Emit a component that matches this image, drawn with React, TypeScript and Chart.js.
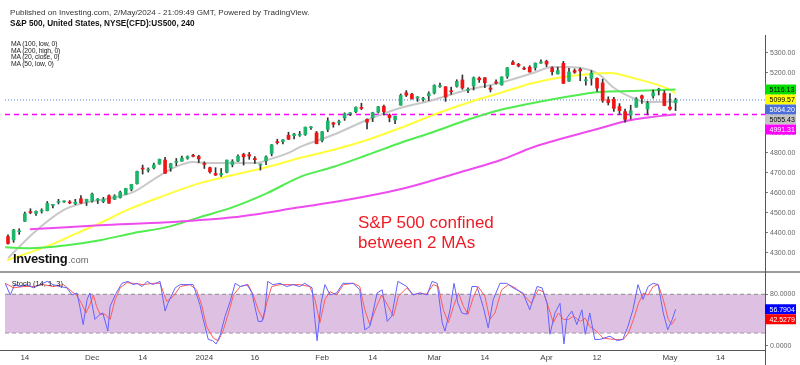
import React, { useEffect, useRef } from 'react';
import { Chart, registerables } from 'chart.js';

Chart.register(...registerables);

const FONT = '"Liberation Sans", Arial, Helvetica, sans-serif';

// ---------- daily candles, 9 Nov 2023 .. 2 May 2024 ----------
const opens = [
  4382, 4365, 4406, 4458, 4505, 4497, 4509, 4511, 4538, 4553, 4555, 4555, 4546, 4571, 4554,
  4559, 4564, 4557, 4586, 4568, 4576, 4593, 4618, 4646, 4721, 4714, 4725, 4744, 4764, 4724, 4753, 4758, 4773, 4786, 4782,
  4745, 4726, 4697, 4690, 4703, 4741, 4759, 4792, 4791, 4772, 4739, 4760, 4797, 4853, 4856, 4888, 4886, 4888, 4892, 4925, 4900,
  4862, 4917, 4950, 4951, 4974, 4995, 5005, 5026, 4967, 4975, 5003, 5032, 4989, 4964, 5038, 5100, 5093, 5074, 5067, 5085,
  5099, 5131, 5130, 5109, 5132, 5164, 5112, 5134, 5173, 5175, 5124, 5154, 5139, 5182, 5253, 5242, 5220, 5228, 5226, 5248,
  5257, 5224, 5194, 5247, 5158, 5211, 5217, 5160, 5172, 5172, 5149, 5066, 5068, 5031, 5006, 4988, 5028, 5085, 5019, 5084, 5114, 5098,
  5029, 5050,
];
const highs = [
  4391, 4418, 4421, 4504, 4521, 4511, 4521, 4557, 4542, 4568, 4560, 4562, 4568, 4587, 4569,
  4599, 4572, 4578, 4590, 4591, 4609, 4623, 4643, 4709, 4739, 4725, 4749, 4769, 4778, 4748, 4772, 4784, 4785, 4793, 4788,
  4755, 4729, 4726, 4722, 4764, 4766, 4790, 4798, 4802, 4782, 4744, 4785, 4842, 4868, 4866, 4903, 4898, 4907, 4929, 4931, 4907,
  4906, 4975, 4953, 4964, 5000, 5001, 5030, 5048, 4970, 5003, 5032, 5039, 4994, 4983, 5094, 5111, 5097, 5081, 5077, 5105,
  5140, 5149, 5131, 5128, 5165, 5189, 5125, 5179, 5179, 5176, 5136, 5165, 5180, 5226, 5261, 5247, 5230, 5235, 5249, 5264,
  5263, 5230, 5228, 5257, 5222, 5219, 5224, 5178, 5211, 5175, 5168, 5080, 5077, 5046, 5019, 5038, 5076, 5089, 5057, 5114, 5123, 5110,
  5096, 5073,
];
const lows = [
  4344, 4353, 4393, 4458, 4496, 4487, 4499, 4510, 4525, 4545, 4552, 4546, 4541, 4547, 4537,
  4554, 4547, 4551, 4547, 4566, 4574, 4593, 4610, 4643, 4694, 4704, 4720, 4743, 4697, 4708, 4736, 4758, 4768, 4780, 4751,
  4722, 4699, 4687, 4682, 4700, 4730, 4756, 4739, 4768, 4747, 4714, 4741, 4785, 4844, 4844, 4866, 4869, 4882, 4887, 4917, 4845,
  4854, 4906, 4928, 4939, 4962, 4986, 5000, 5016, 4920, 4956, 4999, 4990, 4955, 4946, 5038, 5081, 5068, 5057, 5058, 5061,
  5094, 5127, 5057, 5092, 5128, 5117, 5101, 5114, 5152, 5125, 5104, 5144, 5138, 5172, 5240, 5229, 5215, 5203, 5213, 5246,
  5230, 5189, 5194, 5146, 5157, 5197, 5160, 5138, 5138, 5107, 5052, 5039, 5007, 4992, 4953, 4969, 5028, 5047, 4990, 5073, 5089, 5035,
  5013, 5011,
];
const closes = [
  4347, 4415, 4411, 4496, 4502, 4508, 4514, 4547, 4538, 4556, 4559, 4550, 4554, 4550, 4568,
  4594, 4569, 4567, 4549, 4585, 4604, 4622, 4643, 4707, 4719, 4719, 4740, 4768, 4698, 4746, 4754, 4774, 4781, 4783, 4770,
  4742, 4705, 4689, 4697, 4764, 4757, 4783, 4780, 4784, 4766, 4739, 4780, 4840, 4851, 4865, 4868, 4894, 4891, 4928, 4925, 4846,
  4906, 4959, 4943, 4954, 4995, 4998, 5027, 5022, 4953, 5001, 5030, 5005, 4976, 4982, 5087, 5088, 5070, 5078, 5070, 5096,
  5137, 5131, 5079, 5105, 5157, 5124, 5117, 5175, 5165, 5150, 5117, 5149, 5179, 5225, 5241, 5234, 5218, 5204, 5248, 5254,
  5243, 5205, 5211, 5147, 5204, 5202, 5209, 5161, 5199, 5123, 5061, 5051, 5022, 5011, 4967, 5010, 5070, 5072, 5048, 5100, 5116, 5036,
  5018, 5064.2,
];

// ---------- axis ticks (bar index positions) ----------
const dateTickIdx = [3, 15, 24, 35, 44, 56, 65, 76, 85, 96, 105, 118, 127];
const dateTickLabels = ['14', 'Dec', '14', '2024', '16', 'Feb', '14', 'Mar', '14', 'Apr', '12', 'May', '14'];
const priceTicks = [4300, 4400, 4500, 4600, 4700, 4800, 4900, 5000, 5100, 5200, 5300];
const stochTicks = [0, 80];

// ---------- moving averages (bar index, value) ----------
const ma20X = [0, 4.5, 9.8, 13.4, 18.2, 22.3, 26.6, 29.4, 33.0, 35.5, 41.4, 44.4, 46.2, 50.3, 52.0, 57.9, 64.0, 69.9, 75.8, 81.8, 87.7, 93.6, 97.1, 99.6, 103.7, 105.5, 107.8, 111.4, 113.9, 119];
const ma20Y = [4274, 4399, 4513, 4549, 4574, 4604, 4679, 4724, 4754, 4749, 4749, 4749, 4764, 4804, 4829, 4889, 4964, 5024, 5064, 5114, 5149, 5199, 5229, 5229, 5214, 5189, 5129, 5074, 5054, 5055.43];
const ma50X = [-0.2, 7.5, 12.3, 16.4, 21.2, 27.1, 34.2, 40.1, 46.2, 52.0, 57.9, 64.0, 69.9, 75.8, 81.8, 87.7, 93.6, 97.9, 103.7, 107.3, 111.4, 117.5, 119];
const ma50Y = [4264, 4339, 4399, 4449, 4514, 4579, 4649, 4689, 4729, 4774, 4814, 4864, 4924, 4989, 5049, 5099, 5149, 5174, 5194, 5199, 5174, 5122, 5099.57];
const ma100X = [-0.5, 3.9, 10.5, 16.4, 22.3, 28.3, 34.2, 40.1, 46.2, 52.0, 57.9, 64.0, 69.9, 75.8, 81.8, 87.7, 93.6, 98.4, 105.5, 111.4, 119];
const ma100Y = [4328, 4324, 4339, 4364, 4399, 4429, 4479, 4529, 4599, 4679, 4729, 4789, 4849, 4904, 4964, 5014, 5049, 5074, 5104, 5109, 5116.13];
const ma200X = [3.9, 16.4, 28.3, 40.1, 52.0, 61.0, 69.9, 75.8, 81.8, 87.7, 93.6, 99.6, 105.5, 110.0, 114.4, 119];
const ma200Y = [4418, 4438, 4453, 4478, 4528, 4568, 4618, 4663, 4713, 4763, 4828, 4878, 4923, 4958, 4978, 4991.31];

// ---------- stochastic (bar index, value) ----------
const stochKX = [-0.5, 0.4, 1.2, 2.1, 3.4, 4.5, 5.7, 7.0, 8.0, 9.3, 10.5, 11.4, 12.3, 12.8, 13.4, 14.1, 14.6, 15.5, 16.4, 16.9, 17.8, 18.2, 19.1, 20.3, 21.4, 22.3, 23.0, 23.9, 24.8, 25.8, 27.1, 28.0, 28.5, 29.2, 29.8, 30.7, 31.9, 33.0, 33.7, 34.2, 34.8, 35.7, 36.5, 37.1, 37.8, 38.7, 39.6, 40.5, 41.4, 42.6, 43.5, 44.0, 44.6, 45.3, 45.8, 46.3, 47.2, 48.5, 49.7, 50.8, 52.0, 52.9, 54.2, 54.7, 55.1, 55.8, 56.5, 57.4, 58.6, 59.7, 61.5, 62.7, 63.6, 64.5, 65.8, 66.7, 67.6, 68.4, 69.5, 71.1, 72.2, 73.4, 74.7, 75.6, 76.5, 77.4, 77.9, 78.8, 79.5, 80.2, 80.9, 81.8, 82.7, 83.6, 84.7, 85.6, 86.5, 87.7, 88.9, 90.0, 91.8, 93.0, 94.3, 95.2, 96.1, 96.6, 97.5, 98.4, 99.1, 99.6, 100.5, 101.4, 102.3, 102.9, 103.7, 104.6, 105.5, 107.3, 108.6, 109.6, 110.5, 111.4, 112.3, 113.2, 114.1, 115.0, 115.9, 116.8, 117.6, 118.4, 119.0];
const stochK = [97, 79, 95, 92, 95, 90, 95, 100, 95, 92, 90, 79, 82, 61, 33, 72, 82, 41, 49, 51, 23, 61, 79, 97, 100, 95, 97, 92, 100, 95, 100, 54, 66, 79, 90, 95, 95, 95, 77, 64, 41, 10, 8, 3, 16, 46, 69, 97, 92, 95, 82, 61, 38, 38, 56, 100, 95, 97, 92, 95, 92, 97, 90, 41, 8, 66, 95, 79, 82, 97, 97, 87, 25, 30, 82, 87, 38, 46, 100, 92, 79, 82, 79, 100, 97, 36, 23, 56, 97, 66, 51, 49, 92, 92, 61, 28, 72, 97, 97, 90, 82, 56, 92, 90, 66, 18, 51, 66, 3, 43, 54, 33, 56, 18, 51, 10, 10, 15, 8, 10, 30, 56, 95, 72, 92, 97, 95, 51, 25, 41, 56.7904];
const stochDX = [-0.5, 1.0, 2.7, 4.5, 6.3, 8.1, 9.9, 11.4, 12.2, 13.1, 13.9, 14.6, 15.2, 15.8, 16.4, 17.3, 18.2, 19.1, 20.0, 21.2, 22.3, 24.1, 25.9, 27.1, 28.3, 29.5, 30.7, 32.4, 33.6, 34.5, 35.4, 36.6, 37.5, 38.4, 39.3, 40.2, 41.4, 42.8, 43.7, 44.6, 45.5, 46.1, 47.0, 48.5, 50.3, 52.0, 53.8, 54.7, 55.6, 56.5, 57.4, 58.6, 59.8, 61.6, 62.7, 63.6, 64.5, 65.7, 66.6, 67.8, 68.7, 69.6, 71.1, 72.2, 73.4, 74.6, 75.8, 76.7, 77.6, 78.5, 79.4, 80.3, 81.2, 82.0, 82.9, 83.8, 85.0, 85.9, 86.8, 88.0, 89.2, 90.4, 91.9, 93.3, 94.5, 95.4, 96.3, 97.2, 98.1, 99.0, 99.9, 100.8, 102.0, 102.9, 103.7, 104.9, 106.1, 107.9, 109.7, 110.6, 111.5, 112.4, 113.3, 114.1, 115.0, 115.9, 116.8, 117.7, 118.3, 119.0];
const stochD = [97, 90, 92, 92, 95, 92, 95, 84, 79, 66, 51, 64, 79, 61, 49, 49, 41, 72, 90, 98, 97, 95, 97, 97, 69, 77, 92, 95, 87, 64, 30, 12, 8, 25, 51, 79, 92, 95, 79, 56, 41, 66, 92, 95, 95, 95, 92, 72, 36, 72, 84, 79, 95, 97, 92, 56, 33, 61, 79, 61, 46, 77, 90, 79, 82, 80, 95, 92, 56, 36, 61, 82, 61, 49, 74, 92, 77, 41, 51, 87, 95, 90, 79, 66, 87, 84, 61, 36, 51, 41, 41, 46, 38, 43, 30, 23, 12, 10, 10, 20, 41, 66, 82, 79, 92, 95, 72, 41, 33, 42.5279];
const stochBand = [20, 80];

// ---------- last-value tags ----------
const lastPrice = 5064.2;
const ma200Level = 4991.31;
const priceTagValues = [5116.13, 5099.57, 5064.2, 5055.43, 4991.31];
const priceTagBg = ['#00e000', '#ffff00', '#4a6fdc', '#c4c4c4', '#ff00ff'];
const priceTagFg = ['#000000', '#000000', '#ffffff', '#000000', '#ffffff'];
const stochTagValues = [56.7904, 42.5279];
const stochTagBg = ['#0000ff', '#ff0000'];

const X_MIN = -0.535;
const X_MAX = 134.94;
const GREEN = '#1db56a';
const RED = '#f21414';
const AXIS_FONT = 7;

function drawTags(ctx: CanvasRenderingContext2D, x: number, items: { y: number; text: string; bg: string; fg: string }[]) {
  let prev = -1e9;
  ctx.save();
  ctx.font = `${AXIS_FONT}px ${FONT}`;
  ctx.textBaseline = 'middle';
  ctx.textAlign = 'left';
  for (const it of items) {
    const y = Math.max(it.y, prev + 10);
    prev = y;
    ctx.fillStyle = it.bg;
    ctx.fillRect(x, y - 5, 31, 10);
    ctx.fillStyle = it.fg;
    ctx.fillText(it.text, x + 4.5, y + 0.5);
  }
  ctx.restore();
}

const T: React.FC<{ x: number; base: number; size: number; bold?: boolean; color?: string; ls?: number; children: React.ReactNode }> = ({ x, base, size, bold, color, ls, children }) => (
  <div
    style={{
      position: 'absolute',
      left: x,
      top: base - 0.8465 * size,
      fontSize: size,
      lineHeight: `${size}px`,
      fontFamily: FONT,
      fontWeight: bold ? 'bold' : 'normal',
      color: color || '#222',
      whiteSpace: 'nowrap',
      letterSpacing: ls ? `${ls}px` : undefined,
    }}
  >
    {children}
  </div>
);

export default function App() {
  const mainRef = useRef<HTMLCanvasElement>(null);
  const stochRef = useRef<HTMLCanvasElement>(null);

  useEffect(() => {
    const pts = (xs: number[], ys: number[]) => xs.map((x, i) => ({ x, y: ys[i] }));
    const hline = (v: number) => [{ x: X_MIN, y: v }, { x: X_MAX, y: v }];
    const bodies = closes.map((c, i) => ({ x: i, y: [opens[i], c] }));
    const wicks = closes.map((_, i) => ({ x: i, y: [lows[i], highs[i]] }));
    const candleColor = (ctx: any) => (closes[ctx.dataIndex] >= opens[ctx.dataIndex] ? GREEN : RED);
    const fixWidth = (s: any) => { s.width = 35; };

    const mainOverlay = {
      id: 'mainOverlay',
      afterDraw(chart: any) {
        const { ctx, chartArea, scales } = chart;
        const items = priceTagValues
          .map((v, i) => ({ v, y: scales.y.getPixelForValue(v), text: v.toFixed(2), bg: priceTagBg[i], fg: priceTagFg[i] }))
          .sort((a, b) => b.v - a.v);
        drawTags(ctx, chartArea.right, items);
      },
    };

    const main = new Chart(mainRef.current!, {
      type: 'bar',
      data: {
        datasets: [
          { type: 'line', data: hline(ma200Level), borderColor: '#ff00ff', borderWidth: 1.5, borderDash: [5, 4], pointRadius: 0, order: 8 } as any,
          { type: 'line', data: hline(lastPrice), borderColor: '#5b7fe0', borderWidth: 1, borderDash: [1, 2], pointRadius: 0, order: 8 } as any,
          { type: 'line', data: pts(ma200X, ma200Y), borderColor: '#ee4cee', borderWidth: 2, pointRadius: 0, cubicInterpolationMode: 'monotone', order: 5 } as any,
          { type: 'line', data: pts(ma100X, ma100Y), borderColor: '#50ec50', borderWidth: 2, pointRadius: 0, cubicInterpolationMode: 'monotone', order: 5 } as any,
          { type: 'line', data: pts(ma50X, ma50Y), borderColor: '#ffff3c', borderWidth: 2, pointRadius: 0, cubicInterpolationMode: 'monotone', order: 5 } as any,
          { type: 'line', data: pts(ma20X, ma20Y), borderColor: '#c8c8c8', borderWidth: 2, pointRadius: 0, cubicInterpolationMode: 'monotone', order: 5 } as any,
          { type: 'bar', data: wicks, backgroundColor: '#333333', barThickness: 1, grouped: false, order: 2 } as any,
          { type: 'bar', data: bodies, backgroundColor: candleColor, barThickness: 3, minBarLength: 1, grouped: false, order: 1 } as any,
        ],
      },
      options: {
        animation: false,
        responsive: false,
        events: [],
        layout: { padding: { left: 5, top: 35, right: 0, bottom: 10 } },
        plugins: { legend: { display: false }, tooltip: { enabled: false } },
        scales: {
          x: { type: 'linear', display: false, min: X_MIN, max: X_MAX, offset: false },
          y: {
            type: 'linear',
            position: 'right',
            min: 4215,
            max: 5388.5,
            afterFit: fixWidth,
            afterBuildTicks: (s: any) => { s.ticks = priceTicks.map((v) => ({ value: v })); },
            grid: { drawOnChartArea: false, drawTicks: true, tickLength: 3, color: '#777' },
            border: { display: true, color: '#555', width: 1 },
            ticks: { color: '#666', padding: 2, font: { family: FONT, size: AXIS_FONT }, callback: (v: any) => Number(v).toFixed(2) },
          },
        },
      } as any,
      plugins: [mainOverlay],
    });

    const stochOverlay = {
      id: 'stochOverlay',
      afterDraw(chart: any) {
        const { ctx, chartArea, scales, width, height } = chart;
        ctx.save();
        ctx.strokeStyle = '#9c9c9c';
        ctx.lineWidth = 2;
        ctx.beginPath();
        ctx.moveTo(0, chartArea.top - 1);
        ctx.lineTo(width, chartArea.top - 1);
        ctx.stroke();
        ctx.strokeStyle = '#555';
        ctx.lineWidth = 1;
        ctx.beginPath();
        ctx.moveTo(0, chartArea.bottom + 0.5);
        ctx.lineTo(chartArea.right, chartArea.bottom + 0.5);
        ctx.moveTo(chartArea.right + 0.5, 0);
        ctx.lineTo(chartArea.right + 0.5, height);
        ctx.stroke();
        ctx.restore();
        const items = stochTagValues.map((v, i) => ({ v, y: scales.y.getPixelForValue(v), text: v.toFixed(4), bg: stochTagBg[i], fg: '#ffffff' }));
        drawTags(ctx, chartArea.right, items);
      },
    };

    const stoch = new Chart(stochRef.current!, {
      type: 'line',
      data: {
        datasets: [
          { data: hline(stochBand[1]), borderColor: '#8a8a8a', borderWidth: 1, borderDash: [4, 3], pointRadius: 0, fill: '+1', backgroundColor: 'rgba(205,160,210,0.65)', order: 9 },
          { data: hline(stochBand[0]), borderColor: '#8a8a8a', borderWidth: 1, borderDash: [4, 3], pointRadius: 0, fill: false, order: 9 },
          { data: pts(stochDX, stochD), borderColor: '#ff5a5a', borderWidth: 1, pointRadius: 0, fill: false, order: 2 },
          { data: pts(stochKX, stochK), borderColor: '#6262ff', borderWidth: 1, pointRadius: 0, fill: false, order: 1 },
        ],
      },
      options: {
        animation: false,
        responsive: false,
        events: [],
        layout: { padding: { left: 5, top: 11, right: 0, bottom: 0 } },
        plugins: { legend: { display: false }, tooltip: { enabled: false } },
        scales: {
          x: {
            type: 'linear',
            min: X_MIN,
            max: X_MAX,
            offset: false,
            afterFit: (s: any) => { s.height = 15; },
            afterBuildTicks: (s: any) => { s.ticks = dateTickIdx.map((v) => ({ value: v })); },
            grid: { display: false, drawTicks: false },
            border: { display: false },
            ticks: {
              autoSkip: false,
              maxRotation: 0,
              padding: 3,
              color: '#444',
              font: { family: FONT, size: 8 },
              callback: (_v: any, i: number) => dateTickLabels[i],
            },
          },
          y: {
            type: 'linear',
            position: 'right',
            min: -6.4,
            max: 113,
            afterFit: fixWidth,
            afterBuildTicks: (s: any) => { s.ticks = stochTicks.map((v) => ({ value: v })); },
            grid: { drawOnChartArea: false, drawTicks: true, tickLength: 3, color: '#777' },
            border: { display: false },
            ticks: { color: '#666', padding: 2, font: { family: FONT, size: AXIS_FONT }, callback: (v: any) => Number(v).toFixed(4) },
          },
        },
      } as any,
      plugins: [stochOverlay],
    });

    return () => {
      main.destroy();
      stoch.destroy();
    };
  }, []);

  return (
    <div style={{ position: 'fixed', left: 0, top: 0, width: 800, height: 365, background: '#fff', overflow: 'hidden' }}>
      <canvas ref={mainRef} width={800} height={280} style={{ position: 'absolute', left: 0, top: 0, display: 'block' }} />
      <canvas ref={stochRef} width={800} height={103} style={{ position: 'absolute', left: 0, top: 262, display: 'block' }} />
      <T x={10} base={15.9} size={8.1} color="#333">Published on Investing.com, 2/May/2024 - 21:09:49 GMT, Powered by TradingView.</T>
      <T x={10} base={27.3} size={8.2} bold color="#111">S&amp;P 500, United States, NYSE(CFD):US500, 240</T>
      <T x={11} base={46.7} size={6.8} ls={-0.15}>MA (100, low, 0)</T>
      <T x={11} base={53.4} size={6.8} ls={-0.15}>MA (200, high, 0)</T>
      <T x={11} base={60.0} size={6.8} ls={-0.15}>MA (20, close, 0)</T>
      <T x={11} base={66.6} size={6.8} ls={-0.15}>MA (50, low, 0)</T>
      <T x={358} base={228} size={17} color="#ee1c25">S&amp;P 500 confined</T>
      <T x={358} base={248} size={17} color="#ee1c25">between 2 MAs</T>
      <T x={13} base={262.7} size={13} bold color="#111" ls={-0.3}>Investing</T>
      <T x={68} base={262.7} size={9.5} color="#666">.com</T>
      <T x={11.7} base={286} size={7.5} color="#222">Stoch (14, 1, 3)</T>
    </div>
  );
}
